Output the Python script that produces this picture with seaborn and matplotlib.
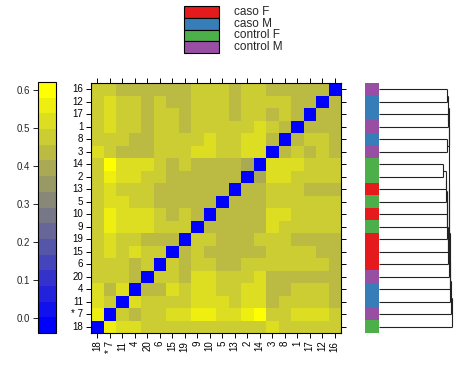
import numpy as np
import pandas as pd
import matplotlib
matplotlib.use("Agg")
import matplotlib.pyplot as plt
from matplotlib.colors import ListedColormap
import seaborn as sns

# ---------------- data ----------------
# sample labels in row order (top -> bottom); columns use the reverse order
row_labels = ["16", "12", "17", "1", "8", "3", "14", "2", "13", "5",
              "10", "9", "19", "15", "6", "20", "4", "11", "* 7", "18"]
col_labels = row_labels[::-1]

groups = ["control M", "caso M", "caso M", "control M", "caso M", "control M",
          "control F", "control F", "caso F", "control F", "caso F", "control F",
          "caso F", "caso F", "caso F", "control M", "caso M", "caso M",
          "control M", "control F"]
group_names = ["caso F", "caso M", "control F", "control M"]
group_colors = ["#E41A1C", "#377EB8", "#4DAF4A", "#984EA3"]

# pairwise distances, rows/cols both in row_labels order
dist_rows = [
    [0.000, 0.435, 0.435, 0.435, 0.435, 0.435, 0.475, 0.475, 0.435, 0.475, 0.475, 0.475, 0.435, 0.435, 0.435, 0.435, 0.435, 0.435, 0.475, 0.475],
    [0.435, 0.000, 0.435, 0.435, 0.475, 0.475, 0.475, 0.475, 0.435, 0.475, 0.475, 0.475, 0.435, 0.435, 0.475, 0.435, 0.475, 0.475, 0.520, 0.475],
    [0.435, 0.435, 0.000, 0.435, 0.475, 0.435, 0.475, 0.475, 0.435, 0.475, 0.475, 0.475, 0.435, 0.475, 0.475, 0.435, 0.475, 0.475, 0.520, 0.475],
    [0.435, 0.435, 0.435, 0.000, 0.435, 0.475, 0.520, 0.475, 0.475, 0.475, 0.475, 0.475, 0.435, 0.475, 0.475, 0.435, 0.475, 0.475, 0.520, 0.475],
    [0.435, 0.475, 0.475, 0.435, 0.000, 0.435, 0.520, 0.520, 0.475, 0.475, 0.520, 0.475, 0.475, 0.475, 0.475, 0.435, 0.435, 0.475, 0.475, 0.475],
    [0.435, 0.475, 0.435, 0.475, 0.435, 0.000, 0.520, 0.520, 0.475, 0.475, 0.520, 0.520, 0.475, 0.475, 0.475, 0.435, 0.435, 0.435, 0.475, 0.520],
    [0.475, 0.475, 0.475, 0.520, 0.520, 0.520, 0.000, 0.390, 0.435, 0.435, 0.435, 0.435, 0.475, 0.435, 0.475, 0.520, 0.520, 0.520, 0.580, 0.475],
    [0.475, 0.475, 0.475, 0.475, 0.520, 0.520, 0.390, 0.000, 0.435, 0.435, 0.435, 0.435, 0.435, 0.435, 0.475, 0.475, 0.520, 0.520, 0.560, 0.475],
    [0.435, 0.435, 0.435, 0.475, 0.475, 0.475, 0.435, 0.435, 0.000, 0.435, 0.435, 0.435, 0.435, 0.435, 0.435, 0.475, 0.475, 0.475, 0.520, 0.475],
    [0.475, 0.475, 0.475, 0.475, 0.475, 0.475, 0.435, 0.435, 0.435, 0.000, 0.435, 0.435, 0.435, 0.435, 0.435, 0.475, 0.475, 0.520, 0.520, 0.475],
    [0.475, 0.475, 0.475, 0.475, 0.520, 0.520, 0.435, 0.435, 0.435, 0.435, 0.000, 0.435, 0.475, 0.435, 0.475, 0.520, 0.520, 0.520, 0.560, 0.475],
    [0.475, 0.475, 0.475, 0.475, 0.475, 0.520, 0.435, 0.435, 0.435, 0.435, 0.435, 0.000, 0.475, 0.475, 0.475, 0.520, 0.520, 0.520, 0.560, 0.475],
    [0.435, 0.435, 0.435, 0.435, 0.475, 0.475, 0.475, 0.435, 0.435, 0.435, 0.475, 0.475, 0.000, 0.435, 0.435, 0.435, 0.475, 0.475, 0.520, 0.475],
    [0.435, 0.435, 0.475, 0.475, 0.475, 0.475, 0.435, 0.435, 0.435, 0.435, 0.435, 0.475, 0.435, 0.000, 0.475, 0.475, 0.520, 0.475, 0.520, 0.475],
    [0.435, 0.475, 0.475, 0.475, 0.475, 0.475, 0.475, 0.475, 0.435, 0.435, 0.475, 0.475, 0.435, 0.475, 0.000, 0.475, 0.435, 0.475, 0.475, 0.475],
    [0.435, 0.435, 0.435, 0.435, 0.435, 0.435, 0.520, 0.475, 0.475, 0.475, 0.520, 0.520, 0.435, 0.475, 0.475, 0.000, 0.435, 0.475, 0.475, 0.475],
    [0.435, 0.475, 0.475, 0.475, 0.435, 0.435, 0.520, 0.520, 0.475, 0.475, 0.520, 0.520, 0.475, 0.520, 0.435, 0.435, 0.000, 0.520, 0.435, 0.520],
    [0.435, 0.475, 0.475, 0.475, 0.475, 0.435, 0.520, 0.520, 0.475, 0.520, 0.520, 0.520, 0.475, 0.475, 0.475, 0.475, 0.520, 0.000, 0.475, 0.520],
    [0.475, 0.520, 0.520, 0.520, 0.475, 0.475, 0.580, 0.560, 0.520, 0.520, 0.560, 0.560, 0.520, 0.520, 0.475, 0.475, 0.435, 0.475, 0.000, 0.560],
    [0.475, 0.475, 0.475, 0.475, 0.475, 0.520, 0.475, 0.475, 0.475, 0.475, 0.475, 0.475, 0.475, 0.475, 0.475, 0.475, 0.520, 0.520, 0.560, 0.000],
]

key_ticks = [0.0, 0.1, 0.2, 0.3, 0.4, 0.5, 0.6]
n_colors = 16

# row dendrogram: (child id, child id, merge height); leaves 0..19, new nodes 20..
dend_merges = [
    (6, 7, 0.526),
    (20, 8, 0.551),
    (21, 9, 0.556),
    (22, 10, 0.560),
    (23, 11, 0.562),
    (24, 12, 0.564),
    (25, 13, 0.567),
    (26, 14, 0.570),
    (0, 1, 0.564),
    (2, 3, 0.573),
    (4, 5, 0.564),
    (28, 29, 0.574),
    (31, 30, 0.577),
    (32, 27, 0.578),
    (33, 15, 0.579),
    (34, 16, 0.583),
    (35, 17, 0.587),
    (36, 18, 0.593),
    (37, 19, 0.601),
]

# ---------------- figure ----------------
sns.set_style("white")
plt.rcParams["font.family"] = ["Liberation Sans", "DejaVu Sans"]

W, H = 468, 381
fig = plt.figure(figsize=(W / 100, H / 100), dpi=100)


def box(x0, y0, x1, y1):
    return [x0 / W, 1 - y1 / H, (x1 - x0) / W, (y1 - y0) / H]


ax = fig.add_axes(box(91, 83, 341, 333))
kax = fig.add_axes(box(38, 82, 56, 333))
sax = fig.add_axes(box(365, 83, 379, 333))
dax = fig.add_axes(box(379, 83, 462, 333))
lax = fig.add_axes(box(184, 6, 219, 53))

D = np.array(dist_rows)
df = pd.DataFrame(D[:, ::-1], index=row_labels, columns=col_labels)
dmin, dmax = D.min(), D.max()
pad = 0.07 * (dmax - dmin)
lo, hi = dmin - pad, dmax + pad
cmap = ListedColormap(sns.blend_palette(["#0000FF", "#FFFF00"], n_colors))

sns.heatmap(df, ax=ax, cmap=cmap, vmin=lo, vmax=hi, cbar_ax=kax,
            xticklabels=True, yticklabels=True)

for s in ax.spines.values():
    s.set_visible(True)
    s.set_linewidth(0.8)
    s.set_color("black")
ax.tick_params(axis="both", which="both", direction="out", length=3.5, width=0.7,
               top=True, right=True, bottom=True, left=True,
               labeltop=False, labelright=False, labelsize=7, pad=2, colors="black")
ax.set_yticklabels(row_labels, rotation=0)
ax.set_xticklabels(col_labels, rotation=90)
ax.set_xlabel("")
ax.set_ylabel("")

cb = ax.collections[0].colorbar
cb.set_ticks(key_ticks)
cb.set_ticklabels([f"{t:.1f}" for t in key_ticks])
cb.ax.yaxis.set_ticks_position("left")
cb.ax.tick_params(labelsize=7, length=3.5, width=0.7, pad=2)
cb.outline.set_edgecolor("black")
cb.outline.set_linewidth(0.8)

# side colour bar
codes = np.array([group_names.index(g) for g in groups])[:, None]
sax.imshow(codes, cmap=ListedColormap(group_colors), vmin=-0.5, vmax=3.5,
           aspect="auto", extent=(0, 1, 20, 0), interpolation="nearest")
sax.axis("off")

# dendrogram
pos = {i: i + 0.5 for i in range(20)}
hgt = {i: 0.0 for i in range(20)}
nid = 20
for a, b, h in dend_merges:
    for c in (a, b):
        dax.plot([hgt[c], h], [pos[c], pos[c]], color="#222222", lw=0.8,
                 solid_capstyle="butt")
    dax.plot([h, h], [pos[a], pos[b]], color="#222222", lw=0.8,
             solid_capstyle="butt")
    pos[nid] = (pos[a] + pos[b]) / 2
    hgt[nid] = h
    nid += 1
dax.set_ylim(20, 0)
dax.set_xlim(0, 0.686)
dax.axis("off")

# legend
lax.barh(np.arange(4), [1] * 4, height=1.0, left=0, color=group_colors,
         edgecolor="black", linewidth=0.8, clip_on=False)
for i, name in enumerate(group_names):
    lax.text(1.43, i, name, va="center", ha="left", fontsize=8.5)
lax.set_xlim(0, 1)
lax.set_ylim(3.5, -0.5)
lax.axis("off")

fig.savefig("out.png", dpi=100)
